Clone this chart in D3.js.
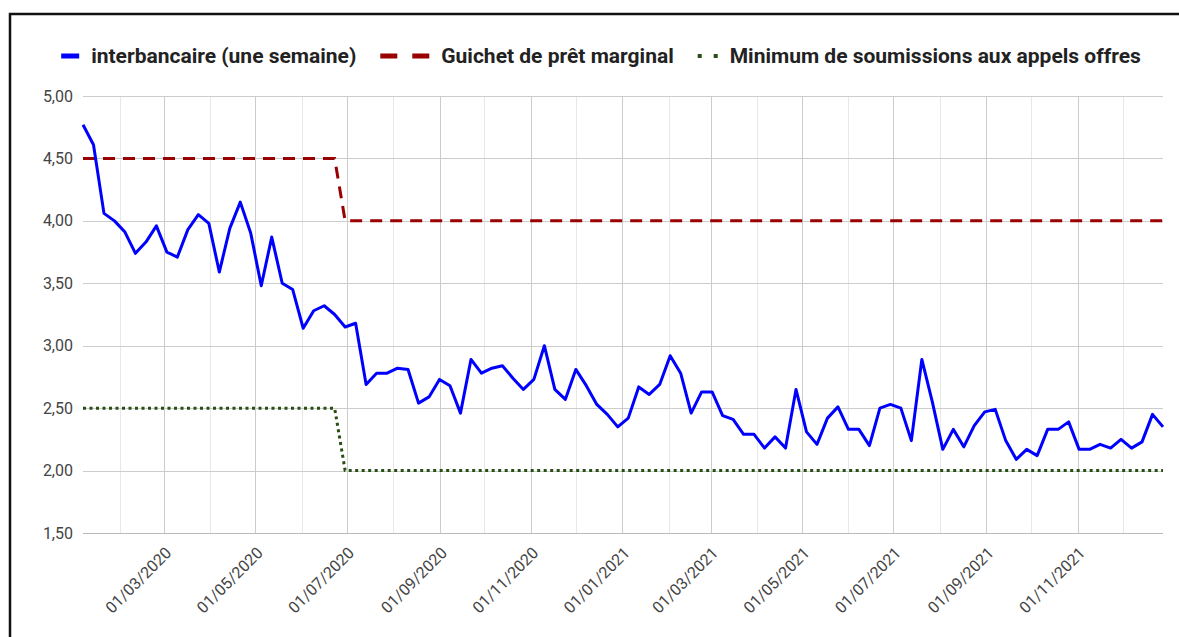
<!DOCTYPE html>
<meta charset="utf-8">
<style>
body { margin: 0; background: #fff; }
svg text { font-family: Roboto, "Liberation Sans", Arial, sans-serif; }
.legend text { font-size: 21px; font-weight: 700; fill: #222; }
.axis text { font-size: 16px; fill: #444; }
</style>
<svg width="1179" height="637"></svg>
<script src="https://d3js.org/d3.v7.min.js"></script>
<script>
// weekly observations, first one on 7 Jan 2020
var firstWeek = new Date(2020, 0, 7);

var interbank = [
  4.77, 4.61, 4.06, 4.00, 3.91, 3.74, 3.83, 3.96, 3.75, 3.71,
  3.93, 4.05, 3.98, 3.59, 3.94, 4.15, 3.90, 3.48, 3.87, 3.50,
  3.45, 3.14, 3.28, 3.32, 3.25, 3.15, 3.18, 2.69, 2.78, 2.78,
  2.82, 2.81, 2.54, 2.59, 2.73, 2.68, 2.46, 2.89, 2.78, 2.82,
  2.84, 2.74, 2.65, 2.73, 3.00, 2.65, 2.57, 2.81, 2.68, 2.53,
  2.45, 2.35, 2.42, 2.67, 2.61, 2.69, 2.92, 2.78, 2.46, 2.63,
  2.63, 2.44, 2.41, 2.29, 2.29, 2.18, 2.27, 2.18, 2.65, 2.31,
  2.21, 2.42, 2.51, 2.33, 2.33, 2.20, 2.50, 2.53, 2.50, 2.24,
  2.89, 2.55, 2.17, 2.33, 2.19, 2.36, 2.47, 2.49, 2.24, 2.09,
  2.17, 2.12, 2.33, 2.33, 2.39, 2.17, 2.17, 2.21, 2.18, 2.25,
  2.18, 2.23, 2.45, 2.35
];

var marginal = [
  4.5, 4.5, 4.5, 4.5, 4.5, 4.5, 4.5, 4.5, 4.5, 4.5,
  4.5, 4.5, 4.5, 4.5, 4.5, 4.5, 4.5, 4.5, 4.5, 4.5,
  4.5, 4.5, 4.5, 4.5, 4.5, 4.0, 4.0, 4.0, 4.0, 4.0,
  4.0, 4.0, 4.0, 4.0, 4.0, 4.0, 4.0, 4.0, 4.0, 4.0,
  4.0, 4.0, 4.0, 4.0, 4.0, 4.0, 4.0, 4.0, 4.0, 4.0,
  4.0, 4.0, 4.0, 4.0, 4.0, 4.0, 4.0, 4.0, 4.0, 4.0,
  4.0, 4.0, 4.0, 4.0, 4.0, 4.0, 4.0, 4.0, 4.0, 4.0,
  4.0, 4.0, 4.0, 4.0, 4.0, 4.0, 4.0, 4.0, 4.0, 4.0,
  4.0, 4.0, 4.0, 4.0, 4.0, 4.0, 4.0, 4.0, 4.0, 4.0,
  4.0, 4.0, 4.0, 4.0, 4.0, 4.0, 4.0, 4.0, 4.0, 4.0,
  4.0, 4.0, 4.0, 4.0
];

var minimumBid = [
  2.5, 2.5, 2.5, 2.5, 2.5, 2.5, 2.5, 2.5, 2.5, 2.5,
  2.5, 2.5, 2.5, 2.5, 2.5, 2.5, 2.5, 2.5, 2.5, 2.5,
  2.5, 2.5, 2.5, 2.5, 2.5, 2.0, 2.0, 2.0, 2.0, 2.0,
  2.0, 2.0, 2.0, 2.0, 2.0, 2.0, 2.0, 2.0, 2.0, 2.0,
  2.0, 2.0, 2.0, 2.0, 2.0, 2.0, 2.0, 2.0, 2.0, 2.0,
  2.0, 2.0, 2.0, 2.0, 2.0, 2.0, 2.0, 2.0, 2.0, 2.0,
  2.0, 2.0, 2.0, 2.0, 2.0, 2.0, 2.0, 2.0, 2.0, 2.0,
  2.0, 2.0, 2.0, 2.0, 2.0, 2.0, 2.0, 2.0, 2.0, 2.0,
  2.0, 2.0, 2.0, 2.0, 2.0, 2.0, 2.0, 2.0, 2.0, 2.0,
  2.0, 2.0, 2.0, 2.0, 2.0, 2.0, 2.0, 2.0, 2.0, 2.0,
  2.0, 2.0, 2.0, 2.0
];

var seriesNames = ["interbancaire (une semaine)", "Guichet de prêt marginal", "Minimum de soumissions aux appels offres"];
var yTicks = [1.5, 2, 2.5, 3, 3.5, 4, 4.5, 5];

var weeks = interbank.map(function(d, i) { return d3.timeDay.offset(firstWeek, 7 * i); });

var svg = d3.select("svg"),
    plotLeft = 83, plotRight = 1163, plotTop = 96, plotBottom = 533;

var x = d3.scaleTime()
    .domain(d3.extent(weeks))
    .range([plotLeft, plotRight]);

var y = d3.scaleLinear()
    .domain([1.5, 5])
    .range([plotBottom, plotTop]);

var frFormat = function(v) { return d3.format(".2f")(v).replace(".", ","); };

// frame
svg.append("rect")
    .attr("x", 10).attr("y", 14)
    .attr("width", 1200).attr("height", 700)
    .attr("fill", "none")
    .attr("stroke", "#111")
    .attr("stroke-width", 2.5);

// month gridlines, every other one labelled
var months = d3.timeMonth.range(d3.timeMonth.ceil(x.domain()[0]), x.domain()[1]);
var labelled = months.filter(function(m) { return m.getMonth() % 2 === 0; });

svg.append("g")
  .selectAll("line")
  .data(months)
  .join("line")
    .attr("x1", function(d) { return Math.round(x(d)) + 0.5; })
    .attr("x2", function(d) { return Math.round(x(d)) + 0.5; })
    .attr("y1", plotTop).attr("y2", plotBottom)
    .attr("stroke", function(d) { return d.getMonth() % 2 === 0 ? "#cccccc" : "#e8e8e8"; })
    .attr("stroke-width", 1);

svg.append("g")
  .selectAll("line")
  .data(yTicks)
  .join("line")
    .attr("x1", plotLeft).attr("x2", plotRight)
    .attr("y1", function(d) { return Math.round(y(d)) + 0.5; })
    .attr("y2", function(d) { return Math.round(y(d)) + 0.5; })
    .attr("stroke", function(d) { return d === 1.5 ? "#bbbbbb" : "#cccccc"; })
    .attr("stroke-width", 1);

// y axis labels
var yAxis = svg.append("g")
    .attr("class", "axis")
    .attr("transform", "translate(" + plotLeft + ",0)")
    .call(d3.axisLeft(y).tickValues(yTicks).tickFormat(frFormat).tickSize(0).tickPadding(10));
yAxis.select(".domain").remove();

// x axis labels, rotated
var xAxis = svg.append("g")
    .attr("class", "axis")
    .attr("transform", "translate(0," + plotBottom + ")")
    .call(d3.axisBottom(x).tickValues(labelled).tickFormat(d3.timeFormat("%d/%m/%Y")).tickSize(0));
xAxis.select(".domain").remove();
xAxis.selectAll("text")
    .attr("text-anchor", "end")
    .attr("dy", null)
    .attr("y", 0)
    .attr("transform", "translate(8,21) rotate(-45)");

// series
var line = d3.line()
    .x(function(d, i) { return x(weeks[i]); })
    .y(function(d) { return y(d); });

svg.append("path")
    .datum(minimumBid)
    .attr("d", line)
    .attr("fill", "none")
    .attr("stroke", "#274e13")
    .attr("stroke-width", 3)
    .attr("stroke-dasharray", "3,3.5");

svg.append("path")
    .datum(marginal)
    .attr("d", line)
    .attr("fill", "none")
    .attr("stroke", "#990000")
    .attr("stroke-width", 3)
    .attr("stroke-dasharray", "12,8");

svg.append("path")
    .datum(interbank)
    .attr("d", line)
    .attr("fill", "none")
    .attr("stroke", "#0000ff")
    .attr("stroke-width", 3)
    .attr("stroke-linejoin", "round");

// legend
var legend = svg.append("g").attr("class", "legend");
var swatches = [
  { color: "#0000ff", dash: null, width: 18 },
  { color: "#990000", dash: "17,15", width: 49 },
  { color: "#274e13", dash: "4,12", width: 20 }
];
var lx = 0, legendY = 56;
seriesNames.forEach(function(name, i) {
  var s = swatches[i];
  var item = legend.append("g");
  item.append("line")
      .attr("x1", lx).attr("x2", lx + s.width)
      .attr("y1", legendY).attr("y2", legendY)
      .attr("stroke", s.color)
      .attr("stroke-width", i === 2 ? 4 : 5)
      .attr("stroke-dasharray", s.dash);
  var t = item.append("text")
      .attr("x", lx + s.width + 12)
      .attr("y", legendY)
      .attr("dy", "0.35em")
      .text(name);
  lx += s.width + 12 + t.node().getComputedTextLength() + 24;
});
var legendWidth = lx - 24;
legend.attr("transform", "translate(" + (601 - legendWidth / 2) + ",0)");
</script>
